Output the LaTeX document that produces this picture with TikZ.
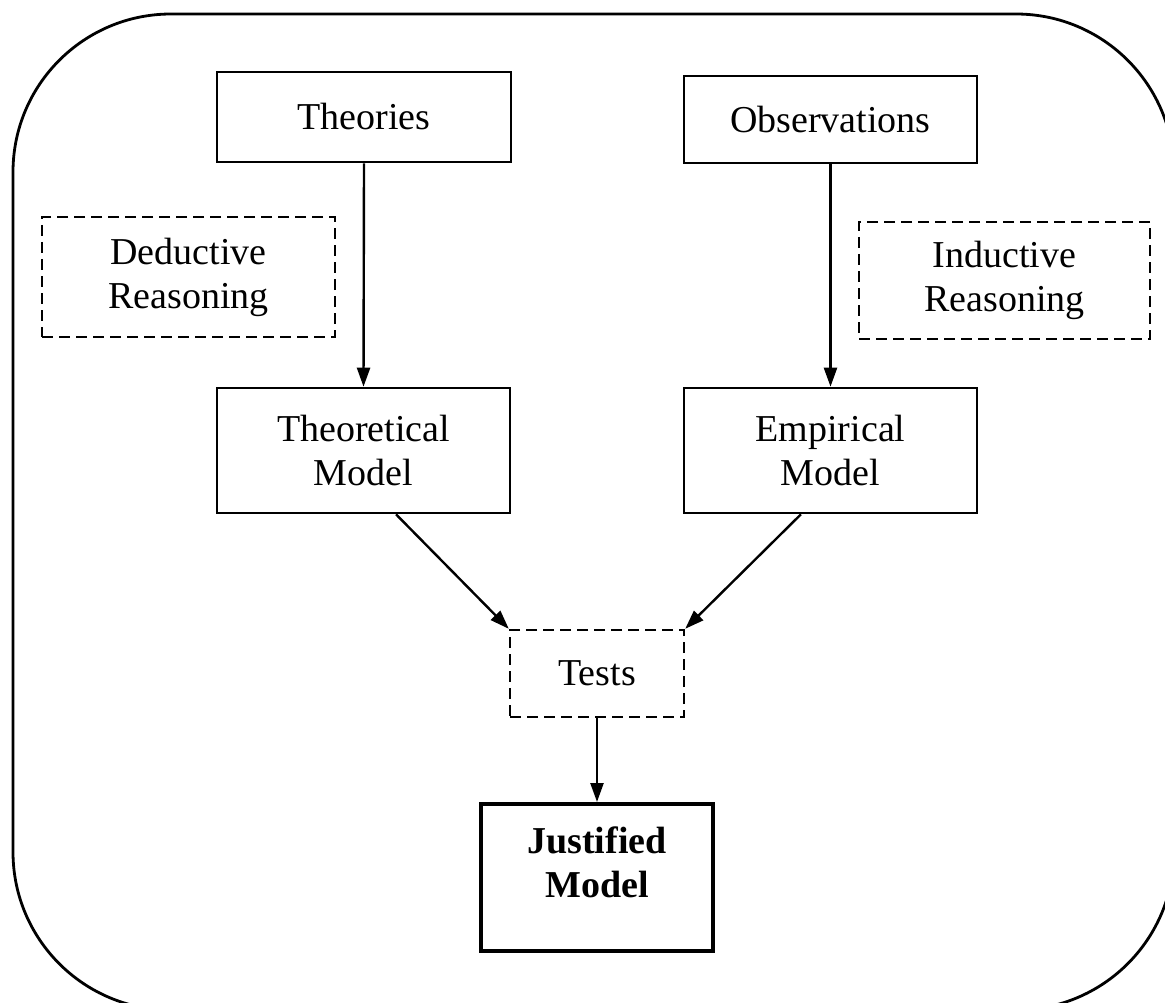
\documentclass[tikz,border=0pt]{standalone}
\usepackage{fontspec}
\setmainfont{Liberation Serif}
\usetikzlibrary{arrows.meta,calc}
\tikzset{
  box/.style={draw, line width=2.6pt, align=center, inner sep=0pt,
    font=\fontsize{38}{44}\selectfont},
  dbox/.style={box, line width=2.4pt, dash pattern=on 11pt off 6pt},
  arr/.style={line width=2.4pt, -{Triangle[length=19pt,width=13pt]}},
}
\begin{document}
\begin{tikzpicture}[x=1pt,y=-1pt]
\useasboundingbox (0,0) rectangle (1165,1003);
\fill[white] (0,0) rectangle (1165,1003);
\draw[line width=2.8pt, rounded corners=158pt] (13,14) rectangle (1174,1010);

\node[box, minimum width=294pt, minimum height=90pt] (theo) at (364,117) {Theories};
\node[box, minimum width=293pt, minimum height=87pt] (obs) at (830.5,119.5) {Observations};
\node[dbox, minimum width=293pt, minimum height=120pt] (ded) at (188.5,277) {Deductive\\Reasoning};
\node[dbox, minimum width=291pt, minimum height=117pt] (ind) at (1004.5,280.5) {Inductive\\Reasoning};
\node[box, minimum width=293pt, minimum height=125pt] (tmod) at (363.5,450.5) {Theoretical\\Model};
\node[box, minimum width=293pt, minimum height=125pt] (emod) at (830.5,450.5) {Empirical\\Model};
\node[dbox, minimum width=174pt, minimum height=87pt] (tests) at (597,673.5) {Tests};
\node[box, line width=4pt, minimum width=232pt, minimum height=147pt] (jm) at (597,877.5) {};
\node[font=\fontsize{38}{44}\selectfont\bfseries, align=center] (jmtext) at (597,862) {Justified\\Model};

\draw[arr] (theo.south) -- (tmod.north);
\draw[arr] (obs.south) -- (emod.north);
\draw[arr] ($(tmod.south west)!0.61!(tmod.south east)$) -- (tests.north west);
\draw[arr] ($(emod.south west)!0.40!(emod.south east)$) -- (tests.north east);
\draw[arr] (tests.south) -- (jm.north);
\end{tikzpicture}
\end{document}
